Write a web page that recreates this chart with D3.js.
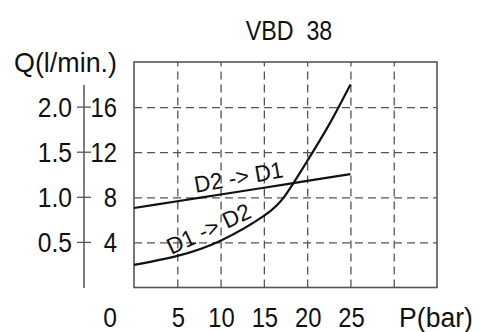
<!DOCTYPE html>
<html>
<head>
<meta charset="utf-8">
<script src="https://d3js.org/d3.v7.min.js"></script>
<style>
    body { margin: 0; background: #fff; }
    text { font-family: "Liberation Sans", Arial, sans-serif; fill: #111; }
</style>
</head>
<body>
<svg id="chart" width="479" height="332"></svg>
<script>
    // data
    var pressureTicks = [5, 10, 15, 20, 25];
    var gridX = [5, 10, 15, 20, 25, 30];
    var gridY = [4, 8, 12, 16];
    var flowLabelsL = ["0.5", "1.0", "1.5", "2.0"];   // Q (l/min.)
    var flowLabelsR = ["4", "8", "12", "16"];
    var d2d1 = [[0, 7.05], [5, 7.65], [10, 8.25], [15, 8.85], [20, 9.45], [25, 10.05]];
    var d1d2 = [[0, 2.0], [5, 2.8], [10, 4.15], [15, 6.35], [17.5, 8.2], [20, 11.2], [22.5, 14.4], [25, 18.0]];

    var svg = d3.select("#chart");
    var x = d3.scaleLinear().domain([0, 35]).range([134, 437]);
    var y = d3.scaleLinear().domain([0, 20]).range([287.5, 62]);

    // narrow CAD-like lettering: regular sans squeezed horizontally
    function label(px, py, txt, size, anchor, sx, rot) {
        return svg.append("text")
            .attr("transform", "translate(" + px + "," + py + ") rotate(" + (rot || 0) + ") scale(" + sx + ",1)")
            .attr("text-anchor", anchor).attr("font-size", size).text(txt);
    }

    // dashed grid
    svg.append("g").attr("transform", "translate(0,287.5)")
        .call(d3.axisBottom(x).tickValues(gridX).tickSize(-(287.5 - 62)).tickFormat(""))
        .call(g => g.select(".domain").remove())
        .selectAll("line").attr("stroke", "#555").attr("stroke-width", 1.3).attr("stroke-dasharray", "8,5");
    svg.append("g").attr("transform", "translate(134,0)")
        .call(d3.axisLeft(y).tickValues(gridY).tickSize(-(437 - 134)).tickFormat(""))
        .call(g => g.select(".domain").remove())
        .selectAll("line").attr("stroke", "#555").attr("stroke-width", 1.3).attr("stroke-dasharray", "8,5");

    // frame
    svg.append("rect")
        .attr("x", x(0)).attr("y", y(20))
        .attr("width", x(35) - x(0)).attr("height", y(0) - y(20))
        .attr("fill", "none").attr("stroke", "#555").attr("stroke-width", 1.6);

    // curves
    var line = d3.line().x(d => x(d[0])).y(d => y(d[1])).curve(d3.curveNatural);
    [d2d1, d1d2].forEach(function(s) {
        svg.append("path").datum(s).attr("d", line)
            .attr("fill", "none").attr("stroke", "#111").attr("stroke-width", 2.2);
    });

    label(240, 185, "D2 -> D1", 23, "middle", 0.97, -10);
    label(212, 236, "D1 -> D2", 23, "middle", 0.97, -25);

    // left flow axis
    svg.append("line").attr("x1", 84).attr("x2", 84).attr("y1", 85).attr("y2", 288)
        .attr("stroke", "#555").attr("stroke-width", 1.5);
    gridY.forEach(function(v, i) {
        svg.append("line").attr("x1", 77).attr("x2", 91).attr("y1", y(v)).attr("y2", y(v))
            .attr("stroke", "#555").attr("stroke-width", 1.3);
        label(72, y(v) + 10, flowLabelsL[i], 28, "end", 0.88);
        label(117, y(v) + 10, flowLabelsR[i], 28, "end", 0.85);
    });

    // x labels
    pressureTicks.forEach(function(v) {
        label(x(v) + 1, 327, v, 28, "middle", 0.85);
    });
    label(117, 327, "0", 28, "end", 0.88);
    label(436, 327, "P(bar)", 28, "middle", 0.95);

    // titles
    label(117, 72, "Q(l/min.)", 28, "end", 0.96);
    label(289, 40, "VBD\u00a0\u00a038", 28, "middle", 0.83);
</script>
</body>
</html>
